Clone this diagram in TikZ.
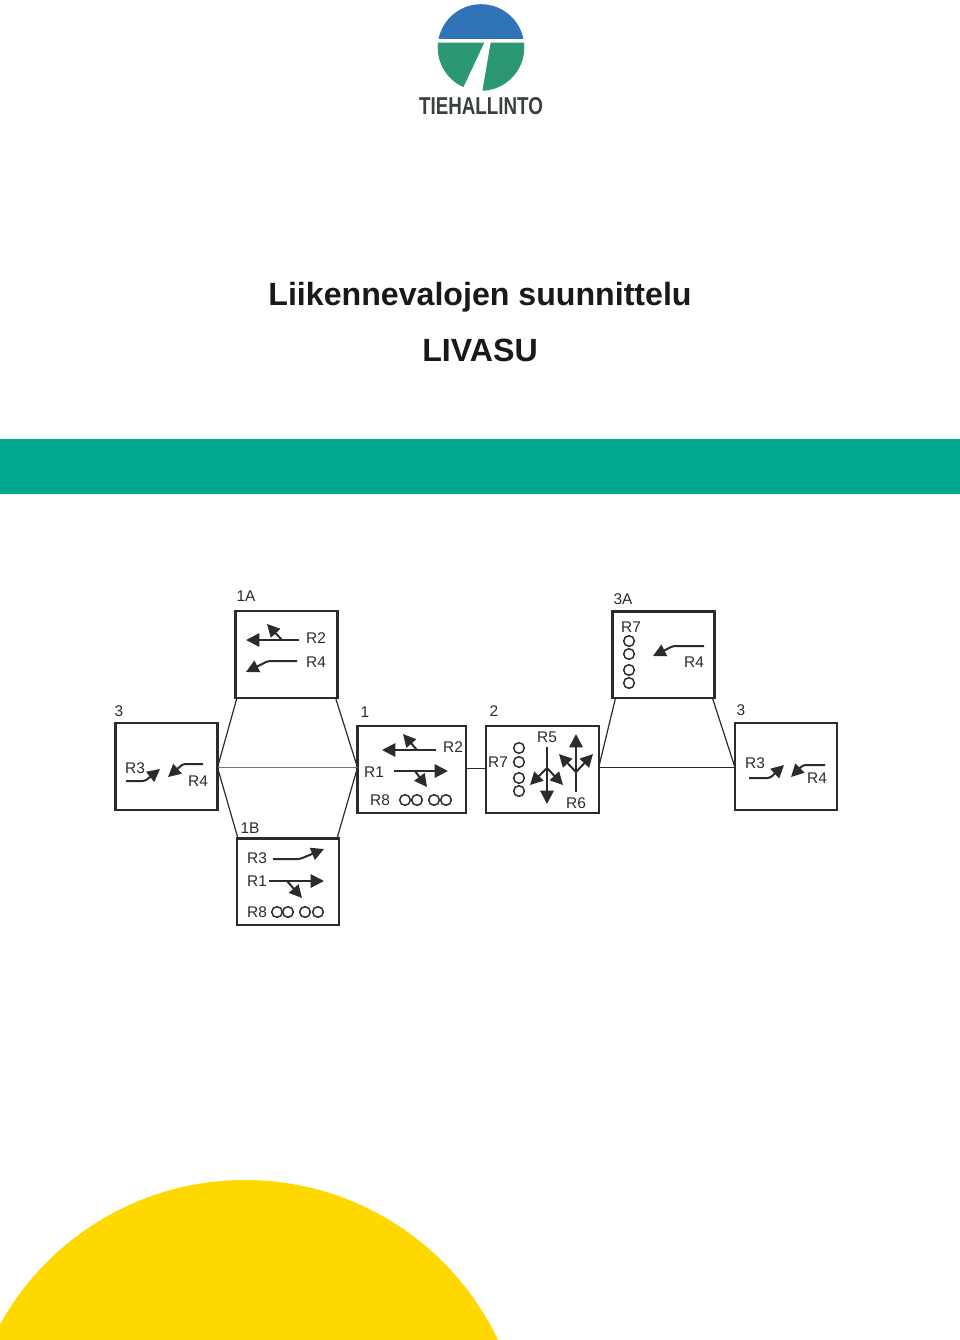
\documentclass[tikz,border=0pt]{standalone}
\usepackage{fontspec}
\setmainfont{Liberation Sans}
\usetikzlibrary{arrows.meta}
\definecolor{bandgreen}{HTML}{00A88E}
\definecolor{sunyellow}{HTML}{FFD800}
\definecolor{logoblue}{HTML}{2F74B8}
\definecolor{logogreen}{HTML}{2C9775}
\definecolor{logotext}{HTML}{3A3F3F}
\definecolor{inkgrey}{HTML}{2B2B2B}

\begin{document}
\begin{tikzpicture}
          [
            x=0.75pt,y=-0.75pt,
            phase/.style={draw=inkgrey,line width=1.7pt,inner sep=0pt,outer sep=0pt,anchor=north west},
            link/.style={draw=inkgrey,line width=0.9pt},
            lab/.style={inner sep=0pt,text=inkgrey,font=\fontsize{11.6}{12}\selectfont},
            move/.style={draw=inkgrey,line width=1.5pt,-{Triangle[length=10pt,width=10pt]}},
            turn/.style={draw=inkgrey,line width=1.5pt,-{Triangle[length=9.5pt,width=9.5pt]},rounded corners=2pt},
            lamp/.style={draw=inkgrey,line width=1.1pt,circle,minimum size=8pt,inner sep=0pt}
          ]
          \useasboundingbox (0,0) rectangle (960,1340);
          \clip (0,0) rectangle (960,1340);
          % yellow sun
          \fill [sunyellow] (245,1460) circle (280);
          % band
          \fill [bandgreen] (0,439) rectangle (960,494);
          % logo
          \begin{scope}
            \clip (437,0) rectangle (525,38);
            \fill [logoblue] (481,47.5) circle (43.3);
          \end{scope}
          \begin{scope}
            \clip (437,42.5) -- (484.3,42.5) -- (463.3,87.5) -- (463,95) -- (437,95) -- cycle;
            \fill [logogreen] (481,47.5) circle (43.3);
          \end{scope}
          \begin{scope}
            \clip (490.7,42.5) -- (525,42.5) -- (525,95) -- (481.7,95) -- cycle;
            \fill [logogreen] (481,47.5) circle (43.3);
          \end{scope}
          \node (logoname) at (481,114) [anchor=base,inner sep=0pt,xscale=0.77,text=logotext,font=\fontsize{18.3}{20}\selectfont\bfseries] {TIEHALLINTO};
          % title
          \node (title) at (480,305) [anchor=base,inner sep=0pt,text=black!90,font=\fontsize{24.1}{26}\selectfont\bfseries] {Liikennevalojen suunnittelu};
          \node (subtitle) at (480,361) [anchor=base,inner sep=0pt,text=black!90,font=\fontsize{24.1}{26}\selectfont\bfseries] {LIVASU};
          % boxes
          \node (box1A) at (235.5,611) [phase,minimum width=76.5pt,minimum height=65pt] {};
          \node (box3L) at (115.5,723) [phase,minimum width=76.5pt,minimum height=65pt] {};
          \node (box1) at (357.5,726) [phase,minimum width=81.5pt,minimum height=65.5pt] {};
          \node (box2) at (486,726) [phase,minimum width=84.5pt,minimum height=65.5pt] {};
          \node (box3A) at (612.5,611.5) [phase,minimum width=76.5pt,minimum height=65pt] {};
          \node (box3R) at (735,723) [phase,minimum width=76.5pt,minimum height=65pt] {};
          \node (box1B) at (237,838.5) [phase,minimum width=76.5pt,minimum height=65pt] {};
          % junctions
          \coordinate (west) at (box3L.east |- 0,767.5);
          \coordinate (east) at (box1.west |- 0,767.5);
          \coordinate (west2) at (box2.east |- 0,767.5);
          \coordinate (east2) at (box3R.west |- 0,767.5);
          \coordinate (mid) at (box1.east |- 0,768.5);
          \coordinate (mid2) at (box2.west |- 0,768.5);
          % edges
          \draw [link] (box1A.south west) ++(1.5,0) -- (west);
          \draw [link] (box1A.south east) ++(-2,0) -- (east);
          \draw [link] (box1B.north west) ++(1,0) -- (west);
          \draw [link] (box1B.north east) ++(-2,0) -- (east);
          \draw [link,draw=black!55,line width=1.2pt] (west) -- (east);
          \draw [link] (mid) -- (mid2);
          \draw [link] (west2) -- (east2);
          \draw [link] (box3A.south west) ++(3,0) -- (west2);
          \draw [link] (box3A.south east) ++(-2,0) -- (east2);
          % phase 1A
          \node (t1A) at (246,596) [lab] {1A};
          \node (r2a) at (316,638) [lab] {R2};
          \node (r4a) at (316,662) [lab] {R4};
          \draw [move] (299,640) -- (246,640);
          \draw [turn] (282,640) -- (267,624);
          \draw [turn] (297,661) -- (268,661) -- (246,672);
          % phase 3 left
          \node (t3l) at (119,711) [lab] {3};
          \node (r3l) at (135,768) [lab] {R3};
          \node (r4l) at (198,781) [lab] {R4};
          \draw [turn] (126,781) -- (145,781) -- (160,769);
          \draw [turn] (203,764) -- (183,764) -- (168,777);
          % phase 1
          \node (t1) at (365,712) [lab] {1};
          \node (r2b) at (453,747) [lab] {R2};
          \node (r1b) at (374,772) [lab] {R1};
          \node (r8b) at (380,800) [lab] {R8};
          \draw [move] (436,750) -- (382,750);
          \draw [turn] (417,750) -- (403,734);
          \draw [move] (394,771) -- (448,771);
          \draw [turn] (415,771) -- (427,787);
          \foreach \x in {405,417,434,446} {
              \node (lampb\x) at (\x,800) [lamp] {};
          }
          % phase 2
          \node (t2) at (494,711) [lab] {2};
          \node (r7c) at (498,762) [lab] {R7};
          \node (r5c) at (547,737) [lab] {R5};
          \node (r6c) at (576,803) [lab] {R6};
          \foreach \y in {748,762,778,791} {
              \node (lampc\y) at (519,\y) [lamp] {};
          }
          \draw [move] (547,747) -- (547,804);
          \draw [turn] (547,768) -- (530,785);
          \draw [turn] (547,768) -- (563,785);
          \draw [move] (576,792) -- (576,734);
          \draw [turn] (576,772) -- (559,754);
          \draw [turn] (576,772) -- (593,754);
          % phase 3A
          \node (t3a) at (623,599) [lab] {3A};
          \node (r7d) at (631,627) [lab] {R7};
          \node (r4d) at (694,662) [lab] {R4};
          \foreach \y in {641,654,670,683} {
              \node (lampd\y) at (629,\y) [lamp] {};
          }
          \draw [turn] (704,646) -- (673,646) -- (653,656);
          % phase 3 right
          \node (t3r) at (741,710) [lab] {3};
          \node (r3r) at (755,763) [lab] {R3};
          \node (r4r) at (817,778) [lab] {R4};
          \draw [turn] (749,778) -- (770,778) -- (784,765);
          \draw [turn] (825,765) -- (803,765) -- (791,777);
          % phase 1B
          \node (t1b) at (250,828) [lab] {1B};
          \node (r3e) at (257,858) [lab] {R3};
          \node (r1e) at (257,881) [lab] {R1};
          \node (r8e) at (257,912) [lab] {R8};
          \draw [turn] (273,859) -- (300,859) -- (324,849);
          \draw [move] (269,881) -- (324,881);
          \draw [turn] (287,881) -- (302,898);
          \foreach \x in {277,288,305,318} {
              \node (lampe\x) at (\x,912) [lamp] {};
          }
        \end{tikzpicture}
\end{document}
